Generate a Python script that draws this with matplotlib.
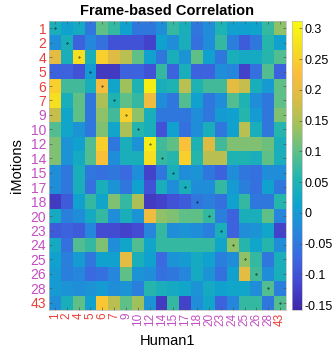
import numpy as np
import matplotlib
matplotlib.use("Agg")
import matplotlib.pyplot as plt
from matplotlib.colors import LinearSegmentedColormap

plt.rcParams["font.family"] = ["Liberation Sans", "DejaVu Sans"]

# participant ids shown on both axes
labels = [1, 2, 4, 5, 6, 7, 9, 10, 12, 14, 15, 17, 18, 20, 23, 24, 25, 26, 28, 43]
red_ids = [1, 2, 4, 5, 6, 7, 43]

# rows = iMotions, columns = Human1
corr = np.array([
    [0.04, 0.01, 0.03, -0.05, 0.10, 0.07, 0.01, -0.05, -0.05, -0.02, 0.07, 0.04, -0.05, -0.02, 0.05, 0.01, 0.01, 0.015, 0.07, 0.13],
    [-0.02, 0.04, -0.08, -0.03, -0.06, -0.10, -0.10, -0.10, -0.12, 0.01, -0.02, 0.04, -0.06, -0.02, 0.07, -0.04, -0.09, -0.05, 0.06, 0.01],
    [0.20, 0.04, 0.27, 0.04, 0.25, 0.19, 0.16, 0.10, 0.01, -0.05, 0.04, -0.01, 0.10, 0.01, -0.05, 0.04, 0.03, 0.03, 0.06, 0.09],
    [-0.08, -0.08, -0.10, 0.00, -0.13, -0.13, -0.08, -0.08, -0.10, 0.07, -0.08, 0.04, -0.08, -0.08, -0.02, -0.03, -0.12, -0.06, 0.09, -0.08],
    [0.25, 0.08, 0.08, 0.04, 0.22, 0.02, 0.14, 0.05, 0.29, 0.04, 0.05, 0.16, 0.05, 0.08, 0.08, 0.20, 0.17, 0.04, 0.00, 0.10],
    [0.27, 0.04, 0.10, -0.05, 0.15, 0.05, 0.10, 0.07, 0.21, -0.02, -0.05, 0.09, 0.01, -0.05, -0.02, 0.09, 0.05, -0.02, -0.05, 0.10],
    [0.17, 0.02, 0.10, -0.05, 0.13, 0.08, 0.25, 0.13, 0.04, -0.05, -0.05, -0.05, -0.02, -0.05, 0.00, 0.01, 0.06, 0.00, -0.05, 0.12],
    [0.09, 0.02, -0.01, -0.05, 0.12, 0.02, 0.15, 0.06, 0.04, -0.10, 0.01, -0.06, -0.02, 0.04, -0.05, 0.01, 0.16, 0.04, -0.05, 0.06],
    [0.12, -0.01, 0.01, 0.09, 0.25, -0.05, 0.04, -0.01, 0.29, 0.08, 0.10, 0.23, 0.05, 0.19, 0.08, 0.12, 0.12, 0.12, 0.11, 0.04],
    [0.12, -0.01, 0.03, 0.09, 0.23, -0.02, 0.04, 0.04, 0.27, 0.07, 0.06, 0.25, 0.06, 0.16, 0.16, 0.05, 0.05, 0.04, 0.10, 0.04],
    [-0.02, -0.05, 0.04, -0.05, -0.06, -0.05, -0.07, -0.02, -0.12, -0.05, 0.04, -0.02, -0.01, -0.05, -0.08, -0.02, -0.05, -0.06, -0.02, -0.02],
    [-0.02, -0.05, 0.04, -0.06, 0.04, -0.01, -0.05, 0.01, -0.10, 0.04, -0.02, 0.04, -0.02, -0.02, 0.07, 0.00, -0.04, -0.06, 0.01, -0.05],
    [-0.13, -0.09, 0.01, 0.07, 0.02, 0.12, 0.07, 0.15, -0.13, -0.12, -0.10, -0.09, -0.05, -0.04, -0.06, 0.01, 0.07, -0.05, -0.05, 0.06],
    [0.03, -0.04, -0.02, 0.03, 0.07, -0.02, 0.04, -0.01, 0.21, 0.13, 0.12, 0.10, 0.10, 0.07, -0.04, -0.08, 0.04, 0.04, 0.10, -0.03],
    [-0.09, -0.08, -0.09, -0.03, -0.11, -0.11, -0.12, -0.11, -0.03, 0.07, -0.02, -0.01, -0.02, -0.04, 0.04, -0.08, -0.02, -0.01, 0.02, -0.12],
    [0.03, -0.06, 0.09, 0.07, 0.12, -0.02, 0.02, 0.09, 0.02, 0.07, 0.07, 0.07, 0.07, 0.07, 0.02, 0.13, 0.06, 0.02, 0.06, -0.02],
    [0.01, -0.04, 0.00, -0.05, 0.01, 0.01, 0.20, 0.04, 0.01, -0.07, -0.01, 0.00, 0.03, 0.01, -0.04, -0.02, 0.13, 0.07, -0.05, 0.04],
    [0.00, -0.04, -0.03, -0.07, -0.06, -0.03, 0.10, -0.01, -0.02, -0.06, -0.05, -0.03, 0.03, -0.01, -0.06, 0.01, 0.20, 0.08, -0.02, 0.04],
    [0.00, -0.01, -0.02, -0.01, 0.00, -0.02, -0.01, -0.04, 0.06, 0.04, 0.03, 0.02, -0.01, 0.03, 0.01, 0.02, 0.02, -0.02, 0.09, -0.04],
    [-0.02, 0.04, 0.10, 0.01, 0.24, 0.16, 0.10, 0.14, -0.01, -0.13, 0.07, -0.12, -0.02, 0.02, -0.08, -0.03, 0.07, 0.07, -0.05, 0.09],
])

cbar_ticks = [-0.15, -0.1, -0.05, 0, 0.05, 0.1, 0.15, 0.2, 0.25, 0.3]
cbar_labels = ["-0.15", "-0.1", "-0.05", "0", "0.05", "0.1", "0.15", "0.2", "0.25", "0.3"]

# rough MATLAB parula
parula = LinearSegmentedColormap.from_list("parula", [
    (0.2422, 0.1504, 0.6603),
    (0.2680, 0.2800, 0.8200),
    (0.2300, 0.4100, 0.8800),
    (0.1500, 0.5300, 0.8600),
    (0.0600, 0.6400, 0.8100),
    (0.1300, 0.7100, 0.6900),
    (0.3600, 0.7500, 0.5400),
    (0.6300, 0.7600, 0.3600),
    (0.8500, 0.7400, 0.2700),
    (0.9900, 0.7400, 0.2400),
    (0.9600, 0.8700, 0.1300),
    (0.9763, 0.9831, 0.0538),
])

red = "#e8403a"
magenta = "#c24fc2"
lab_colors = [red if l in red_ids else magenta for l in labels]

fig = plt.figure(figsize=(3.34, 3.55), dpi=100)
ax = fig.add_axes([49/334, 1-310/355, 237/334, 289/355])
im = ax.imshow(corr, cmap=parula, vmin=-0.158, vmax=0.312,
               aspect="auto", interpolation="nearest")

# diagonal markers
n = len(labels)
ax.plot(range(n), range(n), "k.", markersize=0.7)

ax.set_xticks(range(n))
ax.set_yticks(range(n))
ax.set_xticklabels([str(l) for l in labels], rotation=90, fontsize=8.5)
ax.set_yticklabels([str(l) for l in labels], fontsize=10)
for t, c in zip(ax.get_xticklabels(), lab_colors):
    t.set_color(c)
for t, c in zip(ax.get_yticklabels(), lab_colors):
    t.set_color(c)
ax.tick_params(direction="in", top=True, right=True, length=2.5,
               width=0.5, color="#555555", pad=2)
for s in ax.spines.values():
    s.set_color("#bbbbbb")
    s.set_linewidth(0.5)

ax.set_title("Frame-based Correlation", fontsize=10.5, fontweight="bold", pad=4)
ax.set_xlabel("Human1", fontsize=10.5, labelpad=6)
ax.set_ylabel("iMotions", fontsize=10.5, labelpad=5)

cax = fig.add_axes([292/334, 1-310/355, 10/334, 289/355])
cb = fig.colorbar(im, cax=cax, ticks=cbar_ticks)
cb.ax.set_yticklabels(cbar_labels)
cb.ax.tick_params(direction="in", length=2.5, width=0.5, labelsize=9, pad=2, color="#555555")
cb.outline.set_edgecolor("#bbbbbb")
cb.outline.set_linewidth(0.5)

fig.savefig("out.png", dpi=100)
